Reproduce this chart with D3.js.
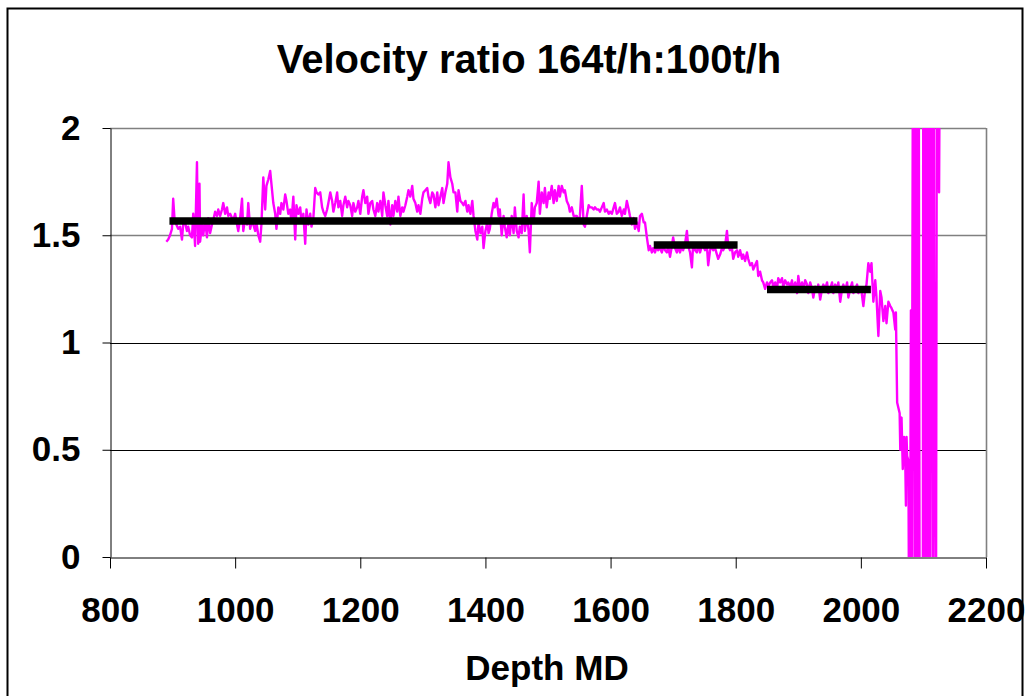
<!DOCTYPE html>
<html><head><meta charset="utf-8">
<script src="https://cdn.jsdelivr.net/npm/d3@7"></script>
<style>body{margin:0;background:#fff}svg{display:block}</style>
</head><body><svg id="c" width="1036" height="696"></svg>
<script>
// Depth (MD) samples and velocity ratio
const depth = [
890,893,896,899,901,903,906,909,912,915,917,920,923,925,928,931,933,936,939,940,
941,943,944,947,949,952,955,957,960,963,965,968,971,973,976,979,981,984,987,989,
992,995,997,1000,1003,1005,1008,1011,1013,1016,1019,1021,1024,1027,1029,1032,1034,1037,1040,1042,
1045,1048,1050,1053,1056,1058,1061,1064,1066,1069,1072,1074,1077,1080,1082,1085,1088,1090,1093,1096,
1098,1101,1104,1106,1109,1112,1114,1117,1120,1122,1125,1128,1130,1133,
1136,1139,1141,1144,1147,1149,1152,1155,1157,1160,1163,1165,1168,1171,1173,1176,1179,1181,1184,1187,
1189,1192,1195,1197,1200,1203,1205,1208,1211,1213,1216,1219,1221,1224,1227,1229,1232,1235,1237,1240,
1243,1245,1248,1251,1253,1256,1259,1261,1264,1267,1269,1272,1275,1277,1280,1283,1285,1288,1291,1293,
1296,1299,1301,1304,1307,1309,1312,1315,1317,1320,1323,1325,1328,1331,1333,1336,1339,1341,1344,1347,
1349,1352,1355,1357,1360,1363,1365,1368,1371,1373,1376,1379,1381,1384,1387,1389,1392,1395,1397,1400,
1403,1405,
1407,1410,1413,1415,1418,1421,1423,1426,1429,1431,1434,1437,1439,1442,1445,1447,1450,1453,1455,1458,
1461,1463,1466,1469,1471,1474,1477,1479,1482,1485,1487,1490,1493,1495,1498,1501,1503,1506,1509,1511,
1514,1517,1519,1522,1525,1527,1530,1533,1535,1538,1541,1543,1546,1549,1551,1554,1557,1559,1562,1565,
1567,1570,1573,1575,1578,1581,1583,1586,1589,1591,1594,1597,1599,1602,1605,1607,1610,1613,1615,1618,
1621,1623,1626,1629,1631,1634,1637,1639,1642,1645,1647,1650,1653,1655,1658,1661,1663,
1666,1668,1671,1674,1676,1679,1682,1684,1687,1690,1692,1695,1698,1700,1703,1706,1708,1711,1714,1716,
1719,1722,1724,1727,1730,1732,1735,1738,1740,1743,1746,1748,1751,1754,1756,1759,1762,1764,1767,1770,
1772,1775,1778,1780,1783,1786,1788,1791,1794,1796,1799,1802,1804,1807,1810,1812,1815,1818,1820,1823,
1826,1828,1831,1834,1836,1839,1842,1844,1847,1850,1852,1855,1858,1860,1863,1866,1868,1871,1874,1876,
1879,1882,1884,
1887,1890,1892,1895,1898,1900,1903,1906,1908,1911,1914,1916,1919,1922,1924,1927,1930,1932,1935,1938,
1940,1943,1946,1948,1951,1954,1956,1959,1962,1964,1967,1970,1972,1975,1978,1980,1983,1986,1988,1991,
1994,1996,1999,2001,2004,2007,2009,2012,2015,2017,2020,2023,2025,2028,2031,2033,2036,2039,2041,2044,
2047,2049,2052,2055,2056,
2058,2062,2063,2064,2065,2067,2069,2071,2072,2073,2074,2076,2077,2079,2080,2081,
2084,2086,2088,2090,2092,2094,2099,2100,2102,2104,2106,2108,2110,2112,2115,2116,2117,2120,2122,2125,2128
];
const ratio = [
1.47,1.48,1.50,1.53,1.67,1.58,1.55,1.53,1.54,1.48,1.55,1.56,1.52,1.54,1.50,1.49,1.60,1.45,1.84,1.60,
1.46,1.74,1.47,1.55,1.50,1.57,1.49,1.58,1.51,1.55,1.57,1.61,1.59,1.62,1.59,1.62,1.65,1.60,1.63,1.59,
1.60,1.58,1.57,1.60,1.55,1.52,1.58,1.67,1.52,1.58,1.55,1.65,1.53,1.57,1.55,1.52,1.56,1.50,1.47,1.55,
1.77,1.62,1.73,1.76,1.80,1.74,1.65,1.60,1.53,1.63,1.60,1.65,1.62,1.69,1.66,1.60,1.62,1.56,1.68,1.48,
1.64,1.60,1.63,1.56,1.60,1.46,1.62,1.55,1.60,1.54,1.58,1.72,1.70,1.69,
1.70,1.63,1.61,1.59,1.62,1.65,1.70,1.66,1.61,1.65,1.70,1.63,1.66,1.59,1.64,1.68,1.63,1.66,1.64,1.59,
1.65,1.61,1.63,1.66,1.60,1.68,1.71,1.65,1.68,1.60,1.65,1.66,1.62,1.59,1.65,1.61,1.66,1.59,1.70,1.64,
1.59,1.66,1.55,1.64,1.59,1.66,1.61,1.68,1.59,1.63,1.61,1.64,1.68,1.71,1.68,1.73,1.67,1.65,1.61,1.64,
1.60,1.67,1.70,1.71,1.72,1.68,1.65,1.70,1.69,1.63,1.70,1.64,1.68,1.72,1.65,1.70,1.74,1.84,1.77,1.74,
1.70,1.70,1.61,1.71,1.66,1.65,1.64,1.66,1.61,1.64,1.60,1.66,1.59,1.52,1.48,1.56,1.51,1.54,1.44,1.52,
1.56,1.51,
1.53,1.60,1.65,1.63,1.67,1.59,1.62,1.50,1.59,1.54,1.49,1.56,1.50,1.59,1.51,1.63,1.52,1.49,1.54,1.51,
1.69,1.52,1.59,1.52,1.42,1.65,1.56,1.63,1.65,1.75,1.60,1.70,1.65,1.72,1.63,1.70,1.67,1.73,1.65,1.71,
1.66,1.73,1.68,1.73,1.70,1.71,1.66,1.64,1.61,1.63,1.59,1.59,1.59,1.56,1.59,1.73,1.55,1.54,1.59,1.64,
1.63,1.63,1.62,1.63,1.62,1.62,1.61,1.63,1.65,1.61,1.62,1.60,1.61,1.60,1.63,1.65,1.60,1.61,1.63,1.59,
1.62,1.60,1.66,1.62,1.59,1.55,1.58,1.53,1.56,1.52,1.59,1.60,1.56,1.56,1.49,1.43,1.45,
1.42,1.44,1.42,1.45,1.43,1.44,1.42,1.45,1.43,1.42,1.45,1.40,1.45,1.49,1.44,1.42,1.45,1.42,1.45,1.43,
1.46,1.52,1.45,1.42,1.35,1.46,1.43,1.42,1.46,1.42,1.45,1.45,1.43,1.45,1.36,1.43,1.45,1.43,1.44,1.41,
1.39,1.41,1.44,1.43,1.45,1.52,1.45,1.43,1.44,1.39,1.42,1.43,1.40,1.43,1.39,1.41,1.38,1.42,1.39,1.36,
1.37,1.34,1.36,1.38,1.31,1.33,1.29,1.28,1.25,1.28,1.26,1.28,1.29,1.26,1.28,1.25,1.30,1.28,1.30,1.26,
1.29,1.27,1.28,
1.26,1.29,1.24,1.28,1.23,1.31,1.25,1.28,1.24,1.29,1.27,1.23,1.28,1.25,1.21,1.26,1.24,1.27,1.20,1.25,
1.27,1.25,1.28,1.23,1.25,1.28,1.23,1.27,1.25,1.28,1.19,1.25,1.27,1.24,1.28,1.21,1.25,1.28,1.23,1.25,
1.27,1.23,1.25,1.24,1.17,1.25,1.27,1.37,1.33,1.37,1.19,1.29,1.21,1.03,1.24,1.21,1.10,1.17,1.09,1.19,
1.17,1.16,1.14,1.06,1.14,
0.72,0.67,0.50,0.64,0.65,0.41,0.56,0.44,0.24,0.56,0.47,0.45,-0.3,0.16,1.15,-0.5,
3.5,-0.5,3.5,-0.5,3.5,-0.5,-0.5,3.5,-0.5,3.5,-0.5,3.5,-0.5,3.5,-0.5,3.5,1.30,-0.5,3.5,1.70,3.5
];
// Average-level segments (black bars)
const segStart = [895, 1669, 1850];
const segEnd   = [1643, 1803, 2016];
const segLevel = [1.567, 1.455, 1.247];

const xTicks = [800,1000,1200,1400,1600,1800,2000,2200];
const yTicks = [0,0.5,1,1.5,2];
const yTickLabels = ["0","0.5","1","1.5","2"];

const title = "Velocity ratio 164t/h:100t/h";
const xTitle = "Depth MD";

const FONT = "'Liberation Sans', Arial, Helvetica, sans-serif";
const svg = d3.select('#c');
const L=110,R=986,T=128,B=557;
const x = d3.scaleLinear().domain([800,2200]).range([L,R]);
const y = d3.scaleLinear().domain([0,2]).range([B,T]);

svg.append('rect').attr('width',1036).attr('height',696).attr('fill','#fff');
// outer frame
svg.append('rect').attr('x',7.5).attr('y',8.5).attr('width',1015).attr('height',720)
  .attr('fill','none').attr('stroke','#000').attr('stroke-width',2);

// grid lines
svg.append('g').selectAll('line').data(yTicks.filter(v=>v>0)).join('line')
  .attr('x1',L).attr('x2',R).attr('y1',d=>Math.round(y(d))+0.5).attr('y2',d=>Math.round(y(d))+0.5)
  .attr('stroke',d=>d>=1.5?'#808080':'#000').attr('stroke-width',d=>d>=1.5?1.6:1);
// right border of plot area
svg.append('line').attr('x1',R+0.5).attr('x2',R+0.5).attr('y1',T).attr('y2',B)
  .attr('stroke','#808080').attr('stroke-width',1.6);

// clip
svg.append('clipPath').attr('id','clip').append('rect')
  .attr('x',L).attr('y',T).attr('width',R-L).attr('height',B-T);

const pts = depth.map((d,i)=>[d,ratio[i]]);
svg.append('path').datum(pts).attr('clip-path','url(#clip)')
  .attr('fill','none').attr('stroke','#FF00FF').attr('stroke-width',2.4).attr('stroke-linejoin','round')
  .attr('d', d3.line().x(d=>x(d[0])).y(d=>y(d[1])));

// segments
svg.append('g').selectAll('line').data(segStart.map((s,i)=>({s,e:segEnd[i],v:segLevel[i]}))).join('line')
  .attr('x1',d=>x(d.s)).attr('x2',d=>x(d.e)).attr('y1',d=>y(d.v)).attr('y2',d=>y(d.v))
  .attr('stroke','#000').attr('stroke-width',7.5);

// axes
const xa = svg.append('g').attr('transform',`translate(0,${B+0.5})`)
  .call(d3.axisBottom(x).tickValues(xTicks).tickSize(11).tickSizeOuter(0).tickPadding(29).tickFormat(d3.format('d')));
const ya = svg.append('g').attr('transform',`translate(${L+0.5},0)`)
  .call(d3.axisLeft(y).tickValues(yTicks).tickSize(8).tickSizeOuter(0).tickPadding(22).tickFormat((d,i)=>yTickLabels[i]));
[xa,ya].forEach(g=>{
  g.select('.domain').attr('stroke','#000').attr('stroke-width',1);
  g.selectAll('.tick line').attr('stroke','#000').attr('stroke-width',1);
  g.selectAll('.tick text').attr('fill','#000').style('font-family',FONT).style('font-weight','bold').style('font-size','35px');
});

svg.append('text').attr('x',529).attr('y',73).attr('text-anchor','middle')
  .style('font-family',FONT).style('font-weight','bold').style('font-size','40px').text(title);
svg.append('text').attr('x',547).attr('y',680).attr('text-anchor','middle')
  .style('font-family',FONT).style('font-weight','bold').style('font-size','35px').text(xTitle);
</script></body></html>
